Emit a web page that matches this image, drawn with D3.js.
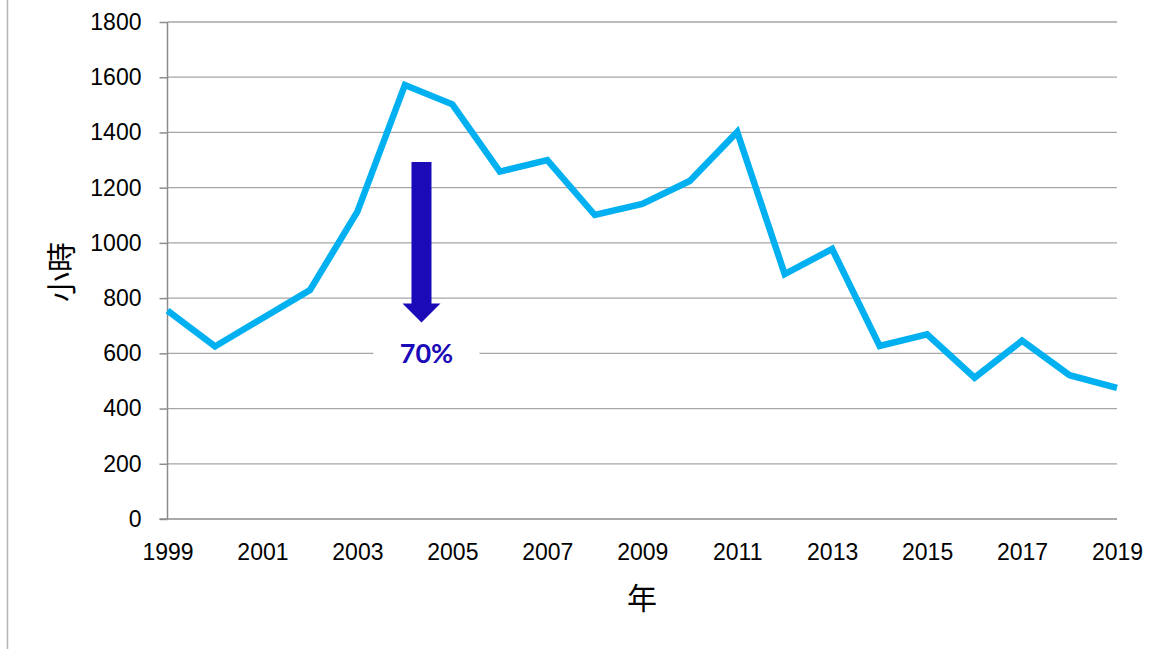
<!DOCTYPE html>
<html lang="zh-TW">
<head>
<meta charset="UTF-8">
<title>小時 / 年</title>
<script src="https://cdnjs.cloudflare.com/ajax/libs/d3/7.8.5/d3.min.js"></script>
<style>
    html, body { margin: 0; padding: 0; background: #fff; }
    svg { display: block; font-family: Lato, "Noto Sans", sans-serif; }
    .grid line { stroke: #a6a6a6; stroke-width: 1.3px; }
    .axis path, .axis line { stroke: #8c8c8c; stroke-width: 1.5px; }
    .axis text { fill: #000; font-size: 23px; }
</style>
</head>
<body>
<div id="chart"></div>
<script>
    // 年份與每年小時數
    const years = [1999, 2000, 2001, 2002, 2003, 2004, 2005, 2006, 2007, 2008, 2009,
                   2010, 2011, 2012, 2013, 2014, 2015, 2016, 2017, 2018, 2019];
    const hours = [755, 625, 727, 829, 1113, 1572, 1502, 1258, 1300, 1101, 1141,
                   1224, 1402, 887, 978, 627, 669, 512, 646, 521, 475];
    const yTicks = [0, 200, 400, 600, 800, 1000, 1200, 1400, 1600, 1800];
    const xTicks = [1999, 2001, 2003, 2005, 2007, 2009, 2011, 2013, 2015, 2017, 2019];
    // 箭頭註記 (年份位置, 起點, 終點)
    const arrowAt = 2004.35, arrowFrom = 1293, arrowTo = 712;
    const arrowLabel = "70%";

    const W = 1172, H = 649;
    const svg = d3.select("#chart").append("svg")
        .attr("width", W).attr("height", H);

    const x = d3.scaleLinear().domain([1999, 2019]).range([167.5, 1117]);
    const y = d3.scaleLinear().domain([0, 1800]).range([519, 22]);

    // 左側邊框
    svg.append("line")
        .attr("x1", 7.5).attr("x2", 7.5).attr("y1", 0).attr("y2", H)
        .attr("stroke", "#b5b5b5").attr("stroke-width", 1.5);

    // 格線
    svg.append("g").attr("class", "grid")
        .selectAll("line")
        .data(yTicks.filter(d => d > 0))
        .enter().append("line")
        .attr("x1", x(1999)).attr("x2", x(2019))
        .attr("y1", d => y(d)).attr("y2", d => y(d));

    // y 軸
    const yAxis = svg.append("g").attr("class", "axis")
        .attr("transform", `translate(${x(1999)},0)`)
        .call(d3.axisLeft(y).tickValues(yTicks).tickSize(8).tickPadding(18).tickFormat(d3.format("d")));
    yAxis.select(".domain").attr("d", `M0,${y(1800)}V${y(0)}`);

    // x 軸
    const xAxis = svg.append("g").attr("class", "axis")
        .attr("transform", `translate(0,${y(0)})`)
        .call(d3.axisBottom(x).tickValues(xTicks).tickSize(0).tickPadding(25).tickFormat(d3.format("d")));
    xAxis.select(".domain").attr("d", `M${x(1999) - 8},0H${x(2019)}`);

    // 折線
    const line = d3.line()
        .x((d, i) => x(years[i]))
        .y(d => y(d));

    svg.append("path")
        .datum(hours)
        .attr("fill", "none")
        .attr("stroke", "#00b0f0")
        .attr("stroke-width", 6.5)
        .attr("stroke-linejoin", "miter")
        .attr("d", line);

    // 箭頭
    const ax = x(arrowAt), arrowTop = y(arrowFrom), arrowTip = y(arrowTo);
    const headH = 19, shaftW = 10, headW = 19;
    svg.append("path")
        .attr("fill", "#1a0ab8")
        .attr("d", `M${ax - shaftW},${arrowTop}H${ax + shaftW}V${arrowTip - headH}H${ax + headW}L${ax},${arrowTip}L${ax - headW},${arrowTip - headH}H${ax - shaftW}Z`);

    // 70% 標籤 (白底遮住格線)
    svg.append("rect")
        .attr("x", ax - 48).attr("y", y(600) - 14)
        .attr("width", 106).attr("height", 28)
        .attr("fill", "#fff");
    svg.append("text")
        .attr("x", ax + 5).attr("y", y(600) + 10)
        .attr("text-anchor", "middle")
        .attr("font-size", 27).attr("font-weight", "bold")
        .attr("fill", "#1a0ab8")
        .text(arrowLabel);

    // 軸標題
    svg.append("text")
        .attr("x", 642).attr("y", 609)
        .attr("text-anchor", "middle")
        .attr("font-family", "'Noto Sans CJK TC', 'Noto Sans CJK SC', sans-serif")
        .attr("font-size", 30)
        .text("年");

    svg.append("text")
        .attr("transform", "translate(72,272) rotate(-90)")
        .attr("text-anchor", "middle")
        .attr("font-family", "'Noto Sans CJK TC', 'Noto Sans CJK SC', sans-serif")
        .attr("font-size", 30)
        .text("小時");
</script>
</body>
</html>
